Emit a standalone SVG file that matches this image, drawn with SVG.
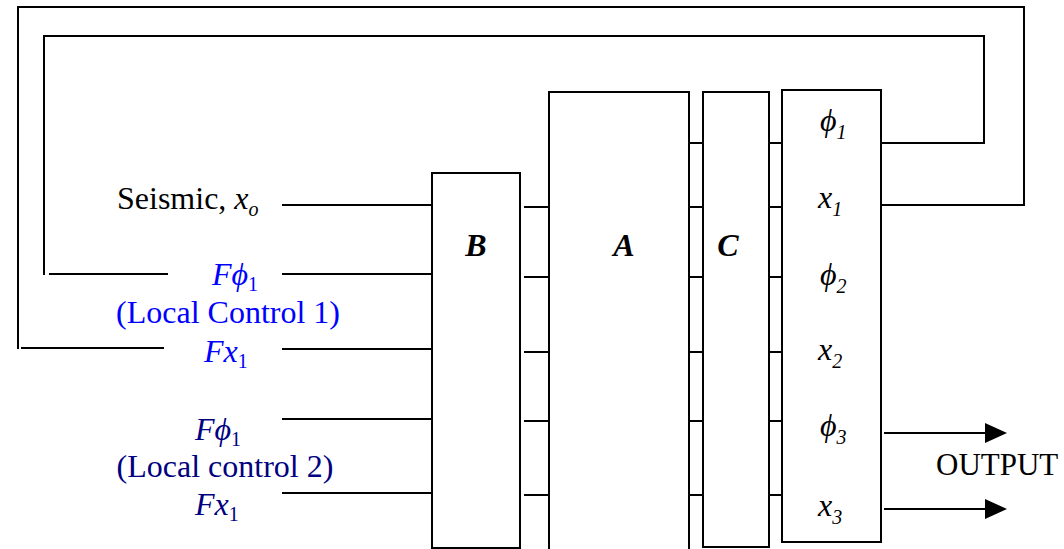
<svg xmlns="http://www.w3.org/2000/svg" width="1064" height="549" viewBox="0 0 1064 549">
  <style>
    .ln{stroke:#000;stroke-width:2;fill:none}
    .box{stroke:#000;stroke-width:2;fill:#fff}
    .t{font-family:"Liberation Serif","Times New Roman",serif;font-size:32px;fill:#000}
    .i{font-style:italic}
    .bi{font-style:italic;font-weight:bold}
    .sub{font-size:20px}
    .blue{fill:#0000ff}
    .navy{fill:#000080}
  </style>
  <defs>
    <marker id="arrow" markerWidth="22" markerHeight="20" refX="0" refY="10" orient="auto" markerUnits="userSpaceOnUse">
      <path d="M0,0 L22,10 L0,20 Z" fill="#000"/>
    </marker>
  </defs>
  <rect width="1064" height="549" fill="#fff"/>

  <!-- wiring: inputs, inter-block stubs, feedback loops, outputs -->
  <g id="connectors" class="ln">
    <!-- inputs into B -->
    <path d="M282,205 H432"/>
    <path d="M282,274 H432"/>
    <path d="M282,349 H432"/>
    <path d="M282,419 H432"/>
    <path d="M282,493 H432"/>
    <!-- B to A -->
    <path d="M524,207 H549"/>
    <path d="M524,277 H549"/>
    <path d="M524,352 H549"/>
    <path d="M524,421 H549"/>
    <path d="M524,495 H549"/>
    <!-- A to C -->
    <path d="M689,143 H703"/>
    <path d="M689,207 H703"/>
    <path d="M689,277 H703"/>
    <path d="M689,352 H703"/>
    <path d="M689,421 H703"/>
    <path d="M689,495 H703"/>
    <!-- C to outputs -->
    <path d="M769,143 H782"/>
    <path d="M769,207 H782"/>
    <path d="M769,277 H782"/>
    <path d="M769,352 H782"/>
    <path d="M769,421 H782"/>
    <path d="M769,495 H782"/>
    <!-- feedback of phi1 (local control 1) -->
    <path d="M881,143 H984 V36 H44 V275"/>
    <path d="M49,274 H168"/>
    <!-- feedback of x1 (local control 1) -->
    <path d="M881,205 H1024 V7 H18 V349"/>
    <path d="M21,348 H164"/>
    <!-- outputs -->
    <path d="M884,433 H985" marker-end="url(#arrow)"/>
    <path d="M884,509 H985" marker-end="url(#arrow)"/>
  </g>

  <!-- input labels -->
  <g id="in-seismic">
    <text class="t" x="117" y="209">Seismic, <tspan class="i">x</tspan><tspan class="i sub" dy="7">o</tspan></text>
  </g>
  <g id="in-control1">
    <text class="t blue" x="212" y="285"><tspan class="i">F</tspan><tspan class="i">ϕ</tspan><tspan class="sub" dy="6">1</tspan></text>
    <text class="t blue" x="228" y="323" text-anchor="middle">(Local Control 1)</text>
    <text class="t blue" x="204" y="362"><tspan class="i">Fx</tspan><tspan class="sub" dy="6">1</tspan></text>
  </g>
  <g id="in-control2">
    <text class="t navy" x="195" y="440"><tspan class="i">F</tspan><tspan class="i">ϕ</tspan><tspan class="sub" dy="6">1</tspan></text>
    <text class="t navy" x="225" y="477" text-anchor="middle">(Local control 2)</text>
    <text class="t navy" x="195" y="515"><tspan class="i">Fx</tspan><tspan class="sub" dy="6">1</tspan></text>
  </g>

  <!-- blocks -->
  <g id="block-B">
    <rect class="box" x="432" y="173" width="88" height="375"/>
    <text class="t bi" x="476" y="256" text-anchor="middle">B</text>
  </g>
  <g id="block-A">
    <rect class="box" x="549" y="92" width="140" height="470"/>
    <text class="t bi" x="624" y="256" text-anchor="middle">A</text>
  </g>
  <g id="block-C">
    <rect class="box" x="703" y="92" width="66" height="455"/>
    <text class="t bi" x="728" y="256" text-anchor="middle">C</text>
  </g>
  <g id="block-states">
    <rect class="box" x="782" y="90" width="99" height="452"/>
    <text class="t i" x="820" y="131">ϕ<tspan class="sub" dy="8">1</tspan></text>
    <text class="t i" x="818" y="208">x<tspan class="sub" dy="8">1</tspan></text>
    <text class="t i" x="820" y="285">ϕ<tspan class="sub" dy="8">2</tspan></text>
    <text class="t i" x="818" y="360">x<tspan class="sub" dy="8">2</tspan></text>
    <text class="t i" x="820" y="436">ϕ<tspan class="sub" dy="8">3</tspan></text>
    <text class="t i" x="818" y="516">x<tspan class="sub" dy="8">3</tspan></text>
  </g>

  <g id="output-label">
    <text class="t" x="936" y="475" style="font-size:31px">OUTPUT</text>
  </g>
</svg>
